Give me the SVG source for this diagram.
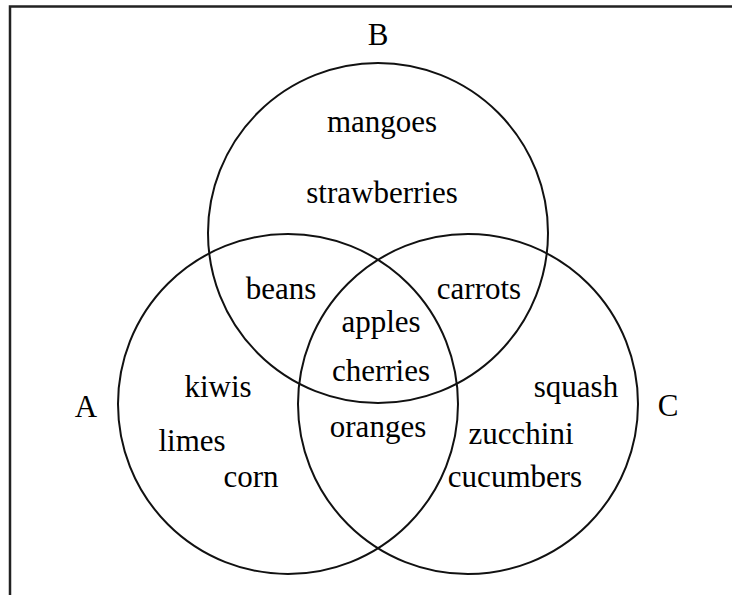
<svg xmlns="http://www.w3.org/2000/svg" width="732" height="595" viewBox="0 0 732 595">
<style>
.c{fill:none;stroke:#111;stroke-width:2}
.b{fill:none;stroke:#222;stroke-width:2.5}
text{font-family:"Liberation Serif","Times New Roman",serif;font-size:31px;fill:#000;text-anchor:middle}
</style>
<rect width="732" height="595" fill="#fff"/>
<path class="b" d="M10 595 V6.5 H732"/>
<g id="circleB"><circle class="c" cx="378" cy="233" r="170"/></g>
<g id="circleA"><circle class="c" cx="288" cy="404" r="170"/></g>
<g id="circleC"><circle class="c" cx="468" cy="404" r="170"/></g>
<g id="labels">
<text x="378" y="45">B</text>
<text x="86" y="417">A</text>
<text x="668" y="416">C</text>
</g>
<g id="items">
<text x="382" y="132">mangoes</text>
<text x="382" y="203">strawberries</text>
<text x="281" y="299">beans</text>
<text x="479" y="299">carrots</text>
<text x="381" y="332">apples</text>
<text x="381" y="381">cherries</text>
<text x="218" y="397">kiwis</text>
<text x="576" y="397">squash</text>
<text x="192" y="451">limes</text>
<text x="251" y="487">corn</text>
<text x="378" y="437">oranges</text>
<text x="521" y="444">zucchini</text>
<text x="515" y="487">cucumbers</text>
</g>
</svg>
